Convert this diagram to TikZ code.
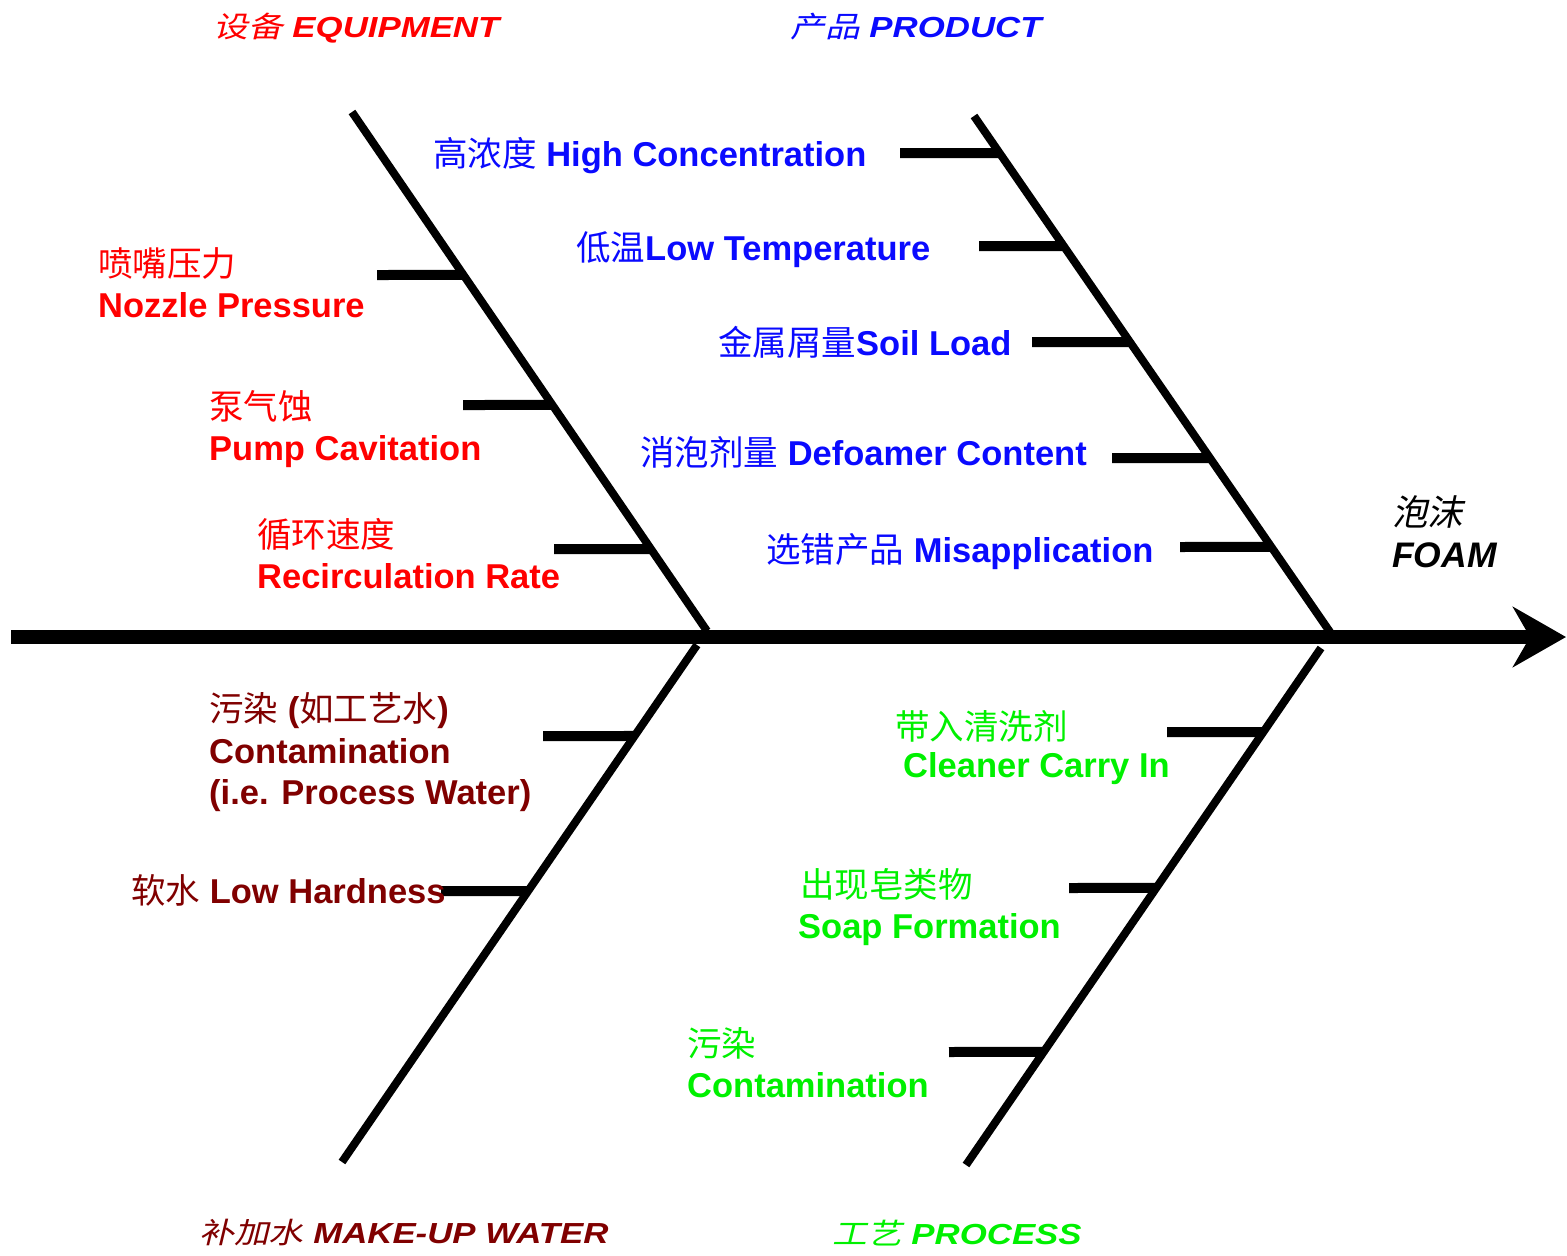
\documentclass[tikz,border=0pt]{standalone}
\usepackage{fontspec}
\usepackage{graphicx}
\usetikzlibrary{arrows.meta,calc}
\setmainfont{Liberation Sans}
\newfontfamily\cjk{Noto Sans CJK SC}
\newfontfamily\cjksl[FakeSlant=0.2]{Noto Sans CJK SC}
\newcommand\zhtext[1]{{\cjk\mdseries #1}}
\newcommand\zhslant[1]{{\cjksl\mdseries #1}}

\definecolor{eqred}{RGB}{255,0,0}
\definecolor{prodblue}{RGB}{10,10,255}
\definecolor{waterred}{RGB}{128,0,0}
\definecolor{procgreen}{RGB}{0,240,0}

\begin{document}
\begin{tikzpicture}[x=1pt,y=-1pt,
  spine/.style={line width=14pt,-{Stealth[length=53pt,width=60pt,inset=17pt]}},
  bone/.style={line width=8pt,line cap=butt},
  tick/.style={line width=10pt,line cap=butt},
  lbl/.style={anchor=base west,inner sep=0pt,font=\fontsize{34.5}{40}\selectfont\bfseries},
  head/.style={anchor=base west,inner sep=0pt,font=\fontsize{29}{34}\selectfont\bfseries\itshape}]
\useasboundingbox (0,0) rectangle (1567,1256);

% main spine and effect
\coordinate (s0) at (11,637);
\coordinate (s1) at (1566,637);

% category bones
\coordinate (ulA) at (352,112);  \coordinate (ulB) at (707,631);
\coordinate (urA) at (974,116);  \coordinate (urB) at (1330,632);
\coordinate (llA) at (697,645);  \coordinate (llB) at (342,1162);
\coordinate (lrA) at (1321,648); \coordinate (lrB) at (966,1165);

\draw[bone] (ulA) -- (ulB);
\draw[bone] (urA) -- (urB);
\draw[bone] (llA) -- (llB);
\draw[bone] (lrA) -- (lrB);
\draw[spine] (s0) -- (s1);

% cause ticks: free end on the left, joined to the bone
\coordinate (ul1) at (377,275);
\coordinate (ul2) at (463,405);
\coordinate (ul3) at (554,549);
\draw[tick] (ul1) -- ($(ulA)!0.314!(ulB)$);
\draw[tick] (ul2) -- ($(ulA)!0.5645!(ulB)$);
\draw[tick] (ul3) -- ($(ulA)!0.842!(ulB)$);

\coordinate (ur1) at (900,153);
\coordinate (ur2) at (979,246);
\coordinate (ur3) at (1032,342);
\coordinate (ur4) at (1112,458);
\coordinate (ur5) at (1180,547);
\draw[tick] (ur1) -- ($(urA)!0.0717!(urB)$);
\draw[tick] (ur2) -- ($(urA)!0.252!(urB)$);
\draw[tick] (ur3) -- ($(urA)!0.438!(urB)$);
\draw[tick] (ur4) -- ($(urA)!0.663!(urB)$);
\draw[tick] (ur5) -- ($(urA)!0.835!(urB)$);

\coordinate (ll1) at (543,736);
\coordinate (ll2) at (441,891);
\draw[tick] (ll1) -- ($(llA)!0.176!(llB)$);
\draw[tick] (ll2) -- ($(llA)!0.476!(llB)$);

\coordinate (lr1) at (1167,732);
\coordinate (lr2) at (1069,888);
\coordinate (lr3) at (949,1052);
\draw[tick] (lr1) -- ($(lrA)!0.1625!(lrB)$);
\draw[tick] (lr2) -- ($(lrA)!0.464!(lrB)$);
\draw[tick] (lr3) -- ($(lrA)!0.781!(lrB)$);

% category headings
\node[head,text=eqred]    (hEq)   at (213,37)   {\scalebox{1.2}[1]{\zhslant{设备} EQUIPMENT}};
\node[head,text=prodblue] (hProd) at (790,37)   {\scalebox{1.2}[1]{\zhslant{产品} PRODUCT}};
\node[head,text=waterred] (hWat)  at (199,1243) {\scalebox{1.2}[1]{\zhslant{补加水} MAKE-UP WATER}};
\node[head,text=procgreen](hProc) at (832,1244) {\scalebox{1.2}[1]{\zhslant{工艺} PROCESS}};

% effect
\node[lbl,font=\fontsize{35.5}{40}\selectfont\bfseries\itshape] (foamZh) at (1392,525) {\zhslant{泡沫}};
\node[lbl,font=\fontsize{35.5}{40}\selectfont\bfseries\itshape] (foamEn) at (1392,567) {FOAM};

% equipment causes
\begin{scope}[every node/.append style={text=eqred}]
\node[lbl] (eq1a) at (98,276)  {\zhtext{喷嘴压力}};
\node[lbl] (eq1b) at (98,317)  {Nozzle Pressure};
\node[lbl] (eq2a) at (209,419) {\zhtext{泵气蚀}};
\node[lbl] (eq2b) at (209,460) {Pump Cavitation};
\node[lbl] (eq3a) at (257,547) {\zhtext{循环速度}};
\node[lbl] (eq3b) at (257,588) {Recirculation Rate};
\end{scope}

% product causes
\begin{scope}[every node/.append style={text=prodblue}]
\node[lbl] (pr1) at (433,166) {\zhtext{高浓度} High Concentration};
\node[lbl] (pr2) at (576,260) {\zhtext{低温}Low Temperature};
\node[lbl] (pr3) at (718,355) {\zhtext{金属屑量}Soil Load};
\node[lbl] (pr4) at (640,465) {\zhtext{消泡剂量} Defoamer Content};
\node[lbl] (pr5) at (766,562) {\zhtext{选错产品} Misapplication};
\end{scope}

% make-up water causes
\begin{scope}[every node/.append style={text=waterred}]
\node[lbl] (wa1a) at (209,721) {\zhtext{污染} (\zhtext{如工艺水})};
\node[lbl] (wa1b) at (209,763) {Contamination};
\node[lbl] (wa1c) at (209,804) {(i.e. Process Water)};
\node[lbl] (wa2)  at (131,903) {\zhtext{软水} Low Hardness};
\end{scope}

% process causes
\begin{scope}[every node/.append style={text=procgreen}]
\node[lbl] (pc1a) at (895,739)  {\zhtext{带入清洗剂}};
\node[lbl] (pc1b) at (903,777)  {Cleaner Carry In};
\node[lbl] (pc2a) at (800,897)  {\zhtext{出现皂类物}};
\node[lbl] (pc2b) at (798,938)  {Soap Formation};
\node[lbl] (pc3a) at (687,1056) {\zhtext{污染}};
\node[lbl] (pc3b) at (687,1097) {Contamination};
\end{scope}
\end{tikzpicture}
\end{document}
